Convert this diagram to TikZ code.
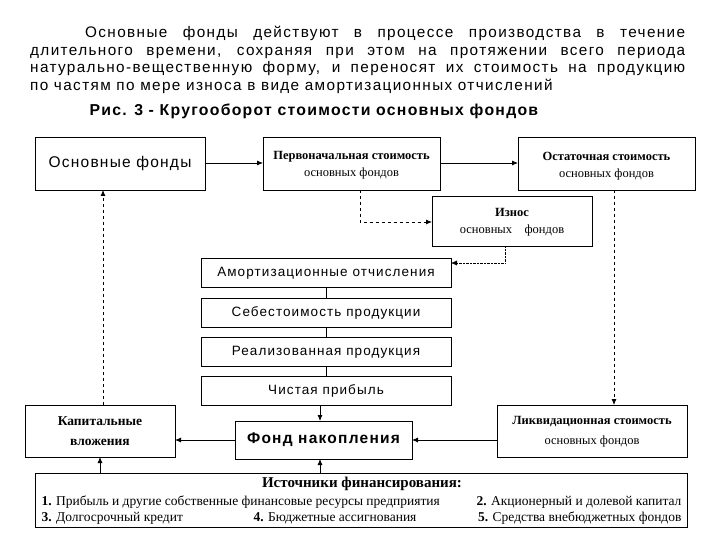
\documentclass[tikz,border=0pt]{standalone}
\usepackage{fontspec}
\setmainfont{Liberation Serif}
\newfontfamily\ar{Liberation Sans}
\newfontfamily\arw[LetterSpace=8]{Liberation Sans}
\newfontfamily\arp[LetterSpace=9]{Liberation Sans}
\usetikzlibrary{arrows.meta}
\begin{document}
\begin{tikzpicture}[x=1pt,y=-1pt,
  bx/.style={draw,thick,inner sep=0pt},
  sol/.style={thick,-{Latex[length=6pt,width=5pt]}},
  dsh/.style={thick,dashed,-{Latex[length=6pt,width=5pt]}},
  dot/.style={densely dotted,-{Latex[length=6pt,width=5pt]}}]
\useasboundingbox (0,0) rectangle (720,540);
\node[anchor=north west,text width=655pt,align=justify,inner sep=0pt,font=\arp\fontsize{15.3}{17.6}\selectfont] (p) at (30,26)
 {\hspace*{55pt}Основные фонды действуют в процессе производства в течение\linebreak длительного времени, сохраняя при этом на протяжении всего периода\linebreak натурально-вещественную форму, и переносят их стоимость на продукцию\linebreak по частям по мере износа в виде амортизационных отчислений};
\node[anchor=west,font=\arw\bfseries\fontsize{15.8}{16}\selectfont] (t) at (86,111) {Рис. 3 - Кругооборот стоимости основных фондов};
\draw[bx] (35,137) rectangle (205,190); \node[font=\arw\fontsize{15.5}{17}\selectfont] (of) at (120,163.5) {Основные фонды};
\draw[bx] (263,137) rectangle (440,190); \node[align=center,font=\fontsize{12.5}{17}\selectfont] (pv) at (351.5,165) {\textbf{Первоначальная стоимость}\\основных фондов};
\draw[bx] (518,137) rectangle (695,190); \node[align=center,font=\fontsize{12.5}{17}\selectfont] (os) at (606.5,166) {\textbf{Остаточная стоимость}\\основных фондов};
\draw[bx] (432,196) rectangle (592,246); \node[align=center,font=\fontsize{12.5}{17}\selectfont] (iz) at (512,222) {\textbf{Износ}\\основных\quad фондов};
\foreach \n/\y/\t in {am/258/Амортизационные отчисления,sb/298/Себестоимость продукции,rp/337/Реализованная продукция,cp/376/Чистая прибыль}
 {\draw[bx] (201,\y) rectangle (451,\y+29); \node[font=\arw\fontsize{13.5}{14}\selectfont] (\n) at (326,\y+15) {\t};}
\draw[bx] (25,405) rectangle (175,457); \node[align=center,font=\bfseries\fontsize{13.5}{20}\selectfont] (kv) at (100,431) {Капитальные\\вложения};
\draw[bx] (235,421) rectangle (412,459); \node[font=\arw\bfseries\fontsize{15.5}{17}\selectfont] (fn) at (323.5,440) {Фонд накопления};
\draw[bx] (497,405) rectangle (687,457); \node[align=center,font=\fontsize{12.5}{20}\selectfont] (lv) at (592,432) {\textbf{Ликвидационная стоимость}\\основных фондов};
\draw[bx] (35,473) rectangle (687,527);
\node[font=\bfseries\fontsize{15}{17}\selectfont] (is) at (362,484) {Источники финансирования:};
\node[anchor=west,font=\fontsize{13.5}{14}\selectfont] (s1) at (38,502) {\textbf{1.} Прибыль и другие собственные финансовые ресурсы предприятия};
\node[anchor=east,font=\fontsize{13.5}{14}\selectfont] (s2) at (685,502) {\textbf{2.} Акционерный и долевой капитал};
\node[anchor=west,font=\fontsize{13.5}{14}\selectfont] (s3) at (38,518) {\textbf{3.} Долгосрочный кредит};
\node[anchor=west,font=\fontsize{13.5}{14}\selectfont] (s4) at (250,518) {\textbf{4.} Бюджетные ассигнования};
\node[anchor=east,font=\fontsize{13.5}{14}\selectfont] (s5) at (685,518) {\textbf{5.} Средства внебюджетных фондов};
% arrows
\draw[sol] (205,163) -- (263,163);
\draw[sol] (440,163) -- (518,163);
\draw[dsh] (360,190) -- (360,222) -- (432,222);
\draw[dot] (505,246) -- (505,263) -- (451,263);
\draw (326,287) -- (326,298) (326,327) -- (326,337) (326,366) -- (326,376);
\draw[sol] (320,405) -- (320,421);
\draw[sol] (235,440) -- (175,440);
\draw[sol] (497,440) -- (412,440);
\draw[sol] (100,473) -- (100,457);
\draw[sol] (320,473) -- (320,459);
\draw[dsh] (103,405) -- (103,190);
\draw[dsh] (614,190) -- (614,405);
\end{tikzpicture}
\end{document}
